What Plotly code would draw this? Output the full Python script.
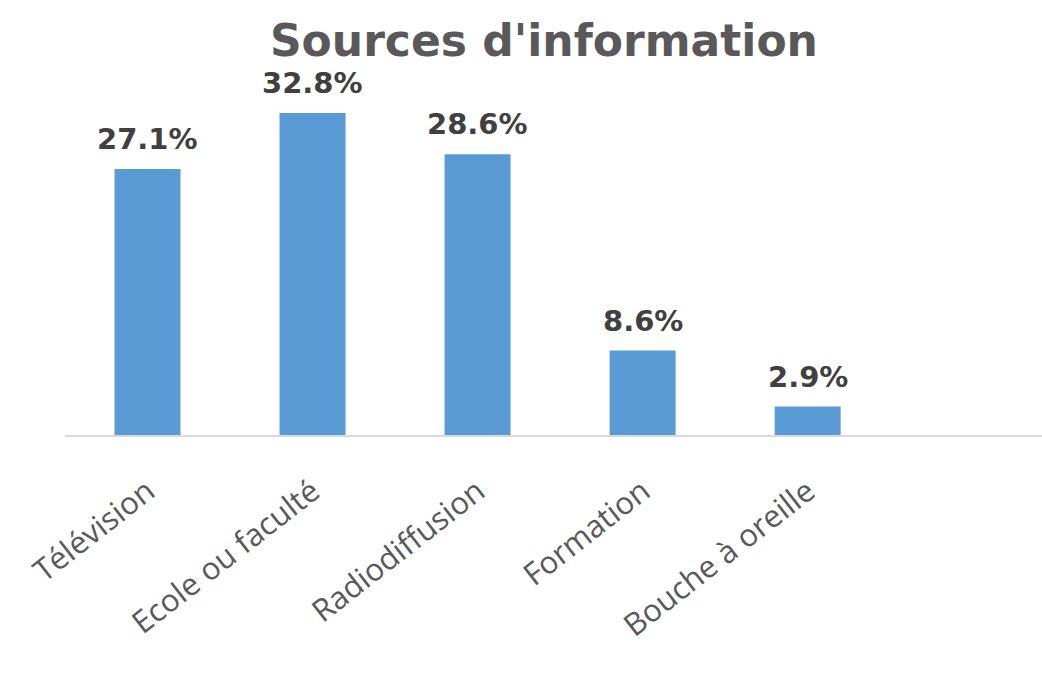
import plotly.graph_objects as go

# Survey results: where respondents got their information
categories = ["Télévision", "Ecole ou faculté", "Radiodiffusion", "Formation", "Bouche à oreille"]
shares = [27.1, 32.8, 28.6, 8.6, 2.9]
value_labels = ["27.1%", "32.8%", "28.6%", "8.6%", "2.9%"]

BAR_BLUE = "#5B9BD5"
TEXT_DARK = "#404040"
TEXT_GREY = "#595959"

fig = go.Figure()
fig.add_trace(go.Bar(
    x=categories,
    y=shares,
    marker=dict(color=BAR_BLUE, line=dict(width=0)),
    width=0.4,
    hoverinfo="skip",
))

# Value labels sitting above each bar
for cat, val, lab in zip(categories, shares, value_labels):
    fig.add_annotation(
        x=cat, y=val, text=lab, showarrow=False,
        yanchor="bottom", yshift=11,
        font=dict(family="DejaVu Sans", size=29, color=TEXT_DARK, weight="bold"),
    )

fig.update_layout(
    width=1042, height=684,
    margin=dict(l=65, r=0, t=60, b=249),
    paper_bgcolor="white",
    plot_bgcolor="white",
    showlegend=False,
    title=dict(
        text="<b>Sources d'information</b>",
        x=0.522, xanchor="center",
        y=0.94, yanchor="middle",
        font=dict(family="DejaVu Sans", size=44, color=TEXT_GREY),
    ),
    xaxis=dict(
        type="category",
        range=[-0.5, 5.42],
        showgrid=False,
        showline=True, linecolor="#D9D9D9", linewidth=2,
        ticks="",
        tickangle=-38,
        ticklabelstandoff=24,
        tickfont=dict(family="Open Sans", size=31, color=TEXT_GREY),
    ),
    yaxis=dict(
        range=[0, 38.2],
        visible=False,
        showgrid=False,
        zeroline=False,
    ),
)

fig.write_html("out.html")
